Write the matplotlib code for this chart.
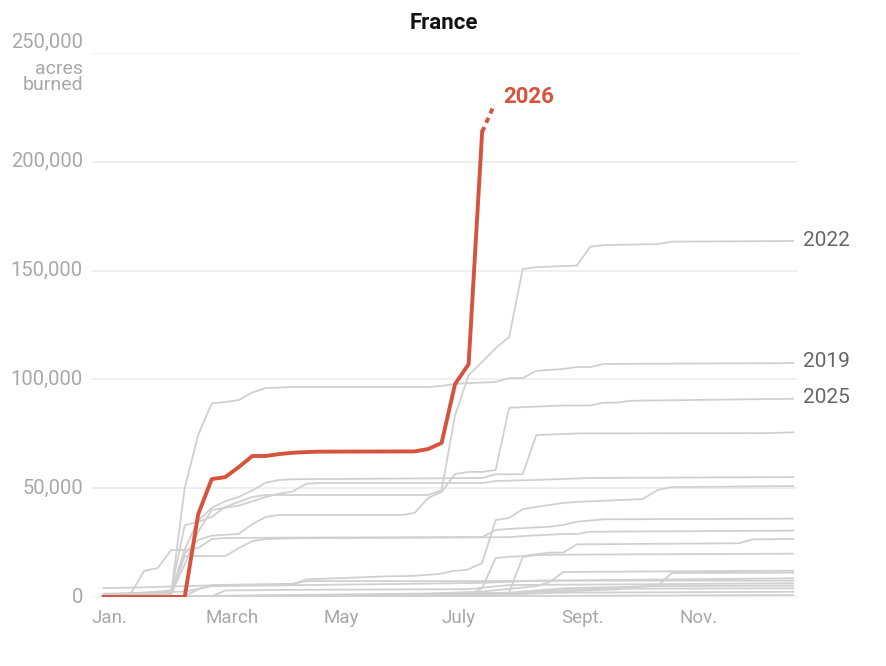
import matplotlib
matplotlib.use("Agg")
import matplotlib.pyplot as plt
import matplotlib.transforms as mtransforms

plt.rcParams['font.family'] = ['Roboto', 'DejaVu Sans']

# day of year / cumulative acres burned
days_2026 = [6, 13, 20, 27, 34, 41, 48, 55, 62, 69, 76, 83, 90, 97, 104, 111, 118, 167, 174, 181, 188, 195, 202]
acres_2026 = [0, 0, 0, 0, 0, 0, 0, 38100, 54200, 55100, 59700, 64800, 64800, 65700, 66300, 66600, 66800,
              66900, 68000, 70800, 97900, 107000, 213700]
days_2026_partial = [202, 208]
acres_2026_partial = [213700, 225700]

days_2022 = [6, 41, 48, 55, 62, 69, 76, 83, 90, 174, 181, 188, 195, 202, 209, 216, 223, 230, 244, 251, 258, 265, 293, 300, 363]
acres_2022 = [500, 3000, 33000, 34500, 36800, 41400, 43700, 46000, 46900, 46900, 49000, 83600, 102000, 108000,
              114400, 119500, 150700, 151600, 152100, 152300, 161000, 161700, 162200, 163300, 163600]

days_2019 = [6, 41, 48, 55, 62, 69, 76, 83, 90, 104, 174, 181, 188, 195, 209, 216, 223, 230, 244, 251, 258, 265, 363]
acres_2019 = [1000, 2000, 50000, 74500, 89000, 89600, 90500, 94000, 96000, 96500, 96500, 97000, 97900, 98300,
              98800, 100600, 100600, 103900, 104800, 105700, 105700, 107100, 107500]

days_2025 = [6, 41, 48, 55, 62, 76, 83, 90, 97, 160, 167, 174, 181, 188, 195, 202, 209, 216, 244, 258, 265, 272, 279, 363]
acres_2025 = [500, 2500, 20000, 26200, 28200, 29000, 33500, 36800, 37700, 37700, 38600, 45500, 48300, 56500,
              57500, 57500, 58400, 87000, 88000, 88000, 89300, 89300, 90200, 91100]

days_2017 = [6, 41, 48, 55, 62, 69, 76, 83, 90, 97, 104, 202, 209, 223, 230, 253, 349, 363]
acres_2017 = [300, 2000, 22000, 35000, 41000, 44000, 46000, 49000, 52500, 53800, 54100, 54700, 56400, 56400,
              74400, 75200, 75300, 75700]

days_2016 = [6, 41, 48, 55, 62, 69, 76, 83, 90, 97, 104, 111, 118, 202, 209, 230, 258, 363]
acres_2016 = [200, 1500, 15000, 30000, 40000, 41000, 42000, 44000, 46000, 47500, 48500, 52000, 52400, 52400,
              53300, 53800, 54700, 55100]

days_2011 = [6, 21, 51, 104, 111, 153, 166, 180, 187, 194, 202, 209, 216, 223, 230, 244, 251, 285, 293, 300, 363]
acres_2011 = [4100, 4300, 5100, 6000, 8100, 9500, 9700, 10600, 12000, 12400, 15600, 35400, 36300, 40400,
              41400, 43200, 43700, 45000, 49200, 50500, 51000]

days_2015 = [6, 20, 27, 34, 41, 48, 55, 62, 69, 104, 202, 209, 216, 237, 244, 251, 265, 363]
acres_2015 = [500, 1500, 12000, 13300, 21600, 21600, 22500, 26650, 27100, 27300, 27500, 30800, 31300, 32300,
              33100, 34600, 35700, 36000]

days_2012 = [6, 41, 48, 69, 76, 83, 90, 104, 216, 223, 244, 251, 258, 363]
acres_2012 = [0, 800, 18800, 18800, 22500, 25700, 26650, 27000, 27500, 28000, 28950, 28950, 30000, 30500]

days_2020 = [6, 195, 202, 209, 216, 223, 237, 244, 251, 335, 342, 363]
acres_2020 = [0, 1000, 4100, 17900, 18500, 18800, 20400, 20400, 24200, 24700, 26500, 26650]

days_2023 = [6, 209, 216, 223, 230, 251, 363]
acres_2023 = [0, 1500, 2000, 18400, 19300, 19500, 19900]

days_2010 = [6, 160, 202, 230, 237, 244, 363]
acres_2010 = [0, 1000, 2500, 5000, 6900, 11500, 12100]

days_2024 = [6, 216, 244, 293, 300, 363]
acres_2024 = [0, 2000, 4000, 5000, 11000, 11200]

days_2009 = [6, 48, 62, 111, 160, 202, 230, 363]
acres_2009 = [1500, 2500, 5000, 5500, 6000, 6500, 7500, 8600]

days_2013 = [6, 48, 55, 62, 104, 111, 202, 237, 363]
acres_2013 = [0, 500, 3500, 5500, 6000, 7300, 7300, 7500, 7500]

days_2014 = [6, 62, 69, 104, 195, 216, 363]
acres_2014 = [0, 300, 3000, 3300, 3600, 5500, 6300]

days_2018 = [6, 150, 195, 272, 286, 363]
acres_2018 = [0, 500, 1000, 3500, 5000, 5200]

days_2021 = [6, 202, 237, 265, 363]
acres_2021 = [0, 500, 3000, 3800, 4000]

days_2008 = [6, 202, 244, 363]
acres_2008 = [0, 800, 2000, 2400]

days_2007 = [6, 230, 363]
acres_2007 = [0, 500, 900]

gray_years = [
    (days_2007, acres_2007), (days_2008, acres_2008), (days_2009, acres_2009), (days_2010, acres_2010),
    (days_2011, acres_2011), (days_2012, acres_2012), (days_2013, acres_2013), (days_2014, acres_2014),
    (days_2015, acres_2015), (days_2016, acres_2016), (days_2017, acres_2017), (days_2018, acres_2018),
    (days_2019, acres_2019), (days_2020, acres_2020), (days_2021, acres_2021), (days_2022, acres_2022),
    (days_2023, acres_2023), (days_2024, acres_2024), (days_2025, acres_2025),
]

month_days = [0, 59, 120, 181, 243, 304]
month_labels = ['Jan.', 'March', 'May', 'July', 'Sept.', 'Nov.']
y_ticks = [0, 50000, 100000, 150000, 200000, 250000]
labelled = [('2022', 164000), ('2019', 108000), ('2025', 91500)]

red = '#d6533e'
gray = '#d0d0d0'
text_gray = '#a8a8a8'

fig = plt.figure(figsize=(8.87, 6.66), dpi=100)
ax = fig.add_axes([0.1037, 0.1036, 0.7948, 0.8168])
ax.set_xlim(0, 365)
ax.set_ylim(0, 250000)

for v in y_ticks:
    ax.axhline(v, color='#ebebeb', lw=1.1, zorder=0)

for d, a in gray_years:
    ax.plot(d, a, color=gray, lw=1.3, zorder=2, solid_joinstyle='round')

ax.plot(days_2026, acres_2026, color=red, lw=2.8, zorder=5, solid_joinstyle='round')
ax.plot(days_2026_partial, acres_2026_partial, color=red, lw=2.8, zorder=5,
        linestyle=(0, (1.4, 1.2)))
ax.text(213, 229800, '2026', color=red, fontsize=16, fontweight='bold', va='center', ha='left')

for name, v in labelled:
    ax.text(368, v, name, color='#666666', fontsize=15, va='center', ha='left', clip_on=False)

ytrans = mtransforms.blended_transform_factory(ax.transAxes, ax.transData)
for v in y_ticks[:-1]:
    ax.text(-0.013, v, f'{v:,}', transform=ytrans, ha='right', va='center',
            color=text_gray, fontsize=14.5)
ax.text(-0.013, 250500, '250,000', transform=ytrans, ha='right', va='bottom',
        color=text_gray, fontsize=14.5)
ax.text(-0.013, 247000, 'acres\nburned', transform=ytrans, ha='right', va='top',
        color=text_gray, fontsize=14, linespacing=0.88)

xtrans = mtransforms.blended_transform_factory(ax.transData, ax.transAxes)
for d, lab in zip(month_days, month_labels):
    ax.text(d, -0.038, lab, transform=xtrans, ha='left', va='center', color=text_gray, fontsize=13.5)

fig.text(0.5, 0.966, 'France', ha='center', va='center', fontsize=16, fontweight='bold', color='#121212')

for s in ax.spines.values():
    s.set_visible(False)
ax.set_xticks([])
ax.set_yticks([])

fig.savefig('out.png', dpi=100)
